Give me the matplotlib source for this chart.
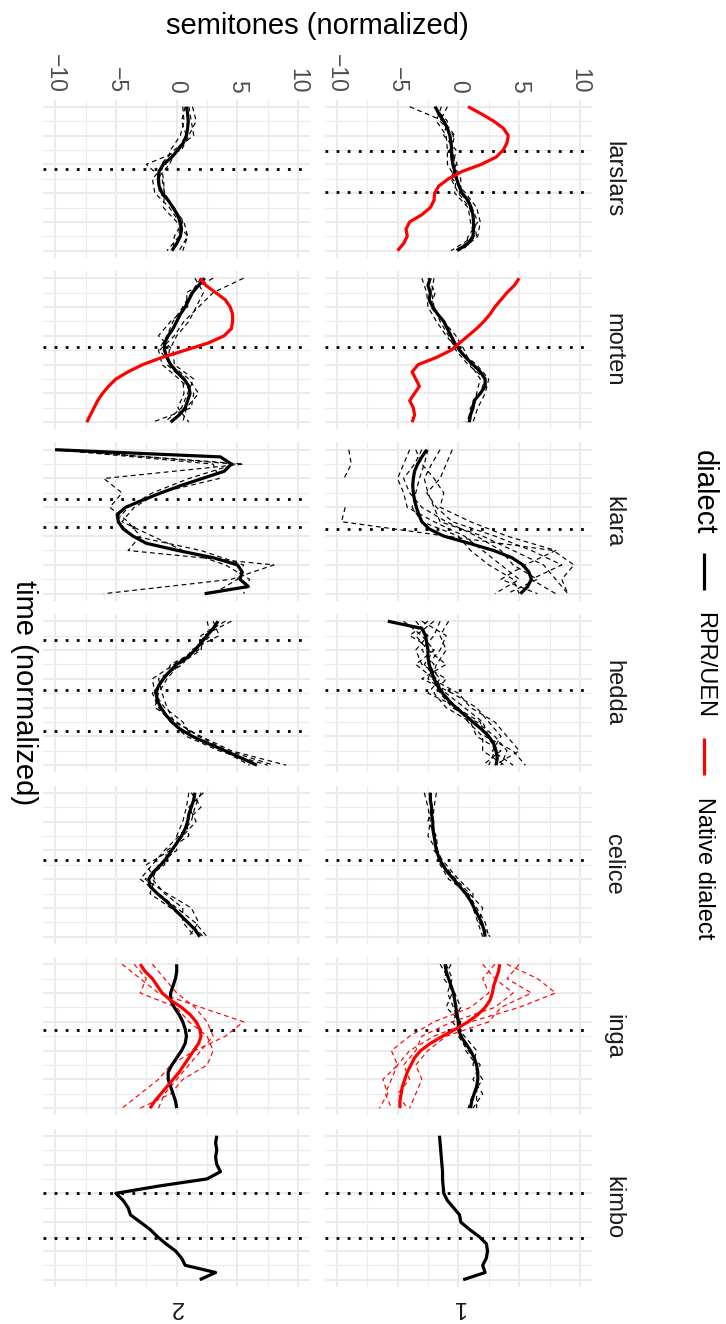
import numpy as np
import matplotlib
matplotlib.use("Agg")
import matplotlib.pyplot as plt

plt.rcParams["font.family"] = ["Liberation Sans", "DejaVu Sans"]

# ─── Data ────────────────────────────────────────────────────────────────────
SPEAKERS = ["larslars", "morten", "klara", "hedda", "celice", "inga", "kimbo"]
ROW_LABELS = ["1", "2"]
SEMI_TICKS = [-10, -5, 0, 5, 10]
SEMI_MINOR = [-7.5, -2.5, 2.5, 7.5]
TIME_TICKS = [0.0, 0.2, 0.4, 0.6, 0.8, 1.0]
TIME_MINOR = [0.1, 0.3, 0.5, 0.7, 0.9]

T21 = [0.00, 0.05, 0.10, 0.15, 0.20, 0.25, 0.30, 0.35, 0.40, 0.45, 0.50,
       0.55, 0.60, 0.65, 0.70, 0.75, 0.80, 0.85, 0.90, 0.95, 1.00]
T11 = [0.0, 0.1, 0.2, 0.3, 0.4, 0.5, 0.6, 0.7, 0.8, 0.9, 1.0]

# mean curves (RPR/UEN), semitones at T21
LARSLARS_1 = [-1.9, -1.6, -1.2, -0.9, -0.7, -0.6, -0.55, -0.55, -0.45, -0.3, -0.15,
              0.05, 0.3, 0.8, 1.05, 1.2, 1.25, 1.25, 1.2, 0.8, -0.1]
LARSLARS_2 = [0.8, 0.9, 0.95, 0.9, 0.8, 0.55, 0.1, -0.4, -1.1, -1.45, -1.5,
              -1.45, -1.2, -0.7, -0.3, 0.05, 0.3, 0.4, 0.3, 0.0, -0.4]
MORTEN_1 = [-2.3, -2.5, -2.3, -2.4, -2.1, -1.7, -1.2, -0.9, -0.6, -0.3, 0.1,
            0.6, 1.2, 1.8, 2.2, 2.2, 1.8, 1.3, 1.2, 1.0, 0.9]
MORTEN_2 = [2.3, 1.8, 1.3, 1.0, 0.7, 0.3, 0.0, -0.3, -0.7, -1.0, -1.0,
            -0.8, -0.5, 0.0, 0.6, 1.0, 1.1, 0.9, 0.7, 0.2, -0.5]
KLARA_1 = [-2.6, -3.0, -3.35, -3.6, -3.7, -3.75, -3.7, -3.6, -3.45, -3.25, -3.0,
           -2.4, -1.2, 0.9, 2.9, 4.4, 5.3, 5.8, 6.0, 5.7, 5.1]
KLARA_2 = [-10.0, 3.6, 4.5, 3.9, 2.1, 0.3, -1.3, -2.8, -4.2, -4.9, -4.8,
           -4.4, -3.6, -2.5, 0.1, 3.0, 5.0, 5.4, 5.2, 5.9, 2.3]
HEDDA_1 = [-5.8, -3.0, -2.7, -2.6, -2.5, -2.5, -2.4, -2.2, -2.0, -1.7, -1.3,
           -0.8, -0.2, 0.5, 1.2, 1.9, 2.5, 2.9, 3.1, 3.2, 3.1]
HEDDA_2 = [3.4, 3.0, 2.5, 2.0, 1.5, 0.9, 0.0, -0.6, -1.1, -1.5, -1.7,
           -1.6, -1.3, -0.9, -0.4, 0.3, 1.3, 2.6, 4.0, 5.3, 6.6]
CELICE_1 = [-2.3, -2.3, -2.2, -2.2, -2.1, -2.1, -2.0, -1.9, -1.8, -1.6, -1.3,
            -0.9, -0.4, 0.1, 0.6, 1.0, 1.3, 1.6, 1.9, 2.1, 2.2]
CELICE_2 = [1.5, 1.4, 1.2, 1.0, 0.9, 0.7, 0.4, 0.0, -0.4, -0.8, -1.3,
            -1.9, -2.3, -2.2, -1.6, -0.9, -0.3, 0.3, 0.9, 1.5, 1.9]
INGA_1 = [-1.1, -1.0, -0.8, -0.6, -0.4, -0.3, -0.2, -0.1, 0.0, 0.0, 0.2,
          0.6, 1.0, 1.3, 1.5, 1.6, 1.6, 1.5, 1.3, 1.1, 1.0]
INGA_2 = [0.0, 0.0, -0.1, -0.3, -0.5, -0.5, -0.2, 0.2, 0.5, 0.7, 0.8,
          0.7, 0.4, 0.0, -0.4, -0.7, -0.7, -0.5, -0.3, -0.1, 0.0]
KIMBO_1 = [-1.55, -1.5, -1.45, -1.4, -1.35, -1.3, -1.3, -1.25, -1.2, -0.9, -0.4,
           0.1, 0.2, 0.9, 1.7, 2.3, 2.4, 2.3, 2.0, 2.2, 0.4]
KIMBO_2 = [3.3, 3.2, 3.3, 3.2, 3.3, 3.6, 2.5, -1.5, -5.0, -4.4, -4.0,
           -3.8, -3.0, -2.2, -1.6, -0.9, -0.1, 0.4, 0.7, 3.2, 1.9]

# native dialect means, semitones at T21
LARSLARS_1_NAT = [0.8, 1.9, 2.9, 3.7, 4.1, 4.0, 3.7, 3.1, 1.9, 0.3, -0.8,
                  -1.6, -1.95, -2.0, -2.3, -3.0, -4.0, -4.3, -4.2, -4.5, -5.0]
MORTEN_1_NAT = [5.0, 4.6, 4.0, 3.5, 3.0, 2.6, 2.1, 1.5, 0.8, 0.1, -0.6,
                -1.8, -3.3, -3.8, -3.5, -3.2, -3.6, -4.0, -3.7, -3.6, -3.8]
MORTEN_2_NAT = [1.9, 2.4, 3.2, 4.0, 4.4, 4.6, 4.6, 4.5, 3.9, 2.6, 0.7,
                -1.2, -2.8, -4.0, -5.0, -5.6, -6.1, -6.5, -6.8, -7.1, -7.4]
INGA_1_NAT = [3.4, 3.3, 3.1, 2.9, 2.8, 2.6, 2.2, 1.6, 0.8, -0.2, -1.3,
              -2.3, -3.1, -3.6, -3.9, -4.2, -4.4, -4.6, -4.7, -4.8, -4.8]
INGA_2_NAT = [-3.0, -2.6, -2.0, -1.6, -1.2, -0.5, 0.4, 1.1, 1.6, 1.9, 2.0,
              1.8, 1.4, 1.0, 0.6, 0.2, -0.3, -0.8, -1.3, -1.8, -2.2]

# individual utterances (dashed), semitones at T11
LARSLARS_1_UTT = [[-4.0, -1.2, -0.3, -0.6, -0.1, -0.5, 0.6, 1.5, 1.8, 1.6, 0.2],
                  [-1.4, -1.8, -1.0, -0.9, -0.9, -0.2, -0.3, 0.8, 1.0, 1.3, -0.6],
                  [-2.0, -0.9, -1.2, -0.2, -0.4, 0.2, 0.2, 1.1, 1.6, 0.8, 0.5],
                  [-0.9, -1.5, -0.4, -0.7, -0.2, -0.6, 0.0, 0.9, 1.3, 1.5, -0.3]]
LARSLARS_2_UTT = [[1.3, 1.6, 1.0, 0.4, -2.5, -1.2, -1.0, -0.3, 0.6, 0.9, 0.2],
                  [0.5, 0.6, 0.3, -0.5, -0.9, -2.0, -1.8, -0.6, 0.2, 0.2, -0.8],
                  [1.0, 1.2, 1.4, -0.2, -1.3, -1.1, -1.0, -1.1, 0.0, 0.9, 0.5],
                  [0.7, 0.4, 0.8, 0.0, -0.6, -1.6, -1.4, -0.2, 0.5, -0.2, -0.3]]
MORTEN_1_UTT = [[-3.0, -2.6, -2.5, -1.8, -1.0, 0.0, 1.5, 2.5, 2.2, 1.6, 1.2],
                [-2.0, -2.2, -2.0, -1.5, -0.8, -0.2, 0.8, 2.2, 1.8, 1.0, 0.8],
                [-2.5, -1.9, -2.3, -1.2, -0.2, 0.5, 1.0, 1.8, 1.5, 1.3, 0.6]]
MORTEN_2_UTT = [[5.5, 3.0, 1.8, 0.6, -0.2, -1.4, -0.5, 1.0, 1.8, 0.8, 0.5],
                [2.0, 1.2, 0.5, -0.3, -0.8, -1.5, -1.2, 0.2, 1.4, 1.2, -2.0],
                [1.5, 2.2, 1.6, 1.0, 0.0, -0.6, -0.8, 0.5, 0.6, 0.1, 1.0],
                [3.0, 0.8, 0.9, -0.5, -1.5, -0.3, -0.2, 1.4, 0.9, 0.4, -1.0]]
KLARA_1_UTT = [[-9.0, -8.8, -9.4, np.nan, -9.3, -9.6, -1.0, 7.8, 9.5, 8.5, 9.0],
               [-3.0, -3.6, -4.5, -4.0, -3.0, -1.0, 1.5, 3.5, 4.5, 6.5, 4.0],
               [-1.5, -2.2, -2.8, -2.5, -2.0, -1.5, 2.0, 4.5, 7.0, 8.0, 9.0],
               [-4.0, -4.5, -5.0, -4.5, -4.2, -2.0, 0.5, 2.0, 3.5, 5.0, 3.0],
               [-0.5, -1.0, -1.5, -2.6, -1.8, -0.5, 3.0, 6.0, 8.5, 6.0, 8.0],
               [-2.5, -2.8, -3.2, -3.5, -3.8, -3.0, 0.0, 1.0, 2.5, 4.5, 5.0],
               [-3.5, -3.0, -2.0, -1.2, -1.5, 1.0, 4.0, 8.0, 5.5, 3.5, 6.5]]
KLARA_2_UTT = [[-10.0, 5.5, -6.0, -4.5, -5.5, -4.0, -3.0, -4.0, 8.0, 4.5, -6.0],
               [-9.8, 4.8, 1.0, -2.0, -4.0, -5.0, -3.5, 2.0, 5.5, 5.0, 3.0],
               [-10.0, 3.0, 3.5, -1.5, -3.5, -4.5, -2.0, 0.5, 4.0, 6.0, 5.5]]
HEDDA_1_UTT = [[-4.5, -3.0, -2.0, -3.5, -2.0, -1.5, -0.5, 1.5, 3.0, 4.0, 3.5],
               [-1.5, -2.0, -3.0, -2.0, -2.5, -1.0, 0.5, 2.0, 2.5, 3.0, 2.5],
               [-3.0, -1.0, -1.5, -2.5, -1.5, -2.5, 0.0, 0.8, 2.0, 2.0, 3.8],
               [-2.0, -3.5, -2.5, -1.0, -3.0, -0.5, 1.5, 2.5, 3.5, 2.8, 4.5],
               [-3.5, -2.5, -3.5, -3.0, -1.0, -2.0, -1.0, 1.0, 1.5, 3.5, 2.0],
               [-0.8, -1.5, -1.0, -1.8, -2.2, 0.0, 1.0, 3.0, 4.0, 5.0, 3.0],
               [-2.5, -4.0, -2.0, -2.8, -1.8, -1.2, -0.2, 1.8, 2.2, 4.5, 5.5]]
HEDDA_2_UTT = [[4.0, 2.0, 1.8, -0.5, -1.0, -2.0, -1.5, -0.5, 0.8, 3.5, 7.5],
               [3.0, 3.5, 1.2, 0.5, -1.5, -1.2, -0.8, -0.2, 2.0, 4.5, 9.0],
               [2.5, 2.8, 1.5, -0.2, -2.0, -1.8, -1.0, 0.5, 1.2, 3.8, 6.0],
               [4.5, 2.2, 2.0, 0.2, -0.8, -1.5, -1.8, 0.0, 1.8, 4.2, 8.0]]
CELICE_1_UTT = [[-2.8, -2.5, -2.3, -2.5, -1.8, -1.5, -0.8, 0.8, 1.5, 2.2, 2.5],
                [-1.8, -2.0, -2.1, -1.9, -2.0, -1.0, 0.0, 1.2, 1.2, 1.6, 2.0],
                [-2.4, -2.2, -2.5, -1.8, -1.7, -1.2, -0.2, 0.9, 2.0, 1.7, 2.6]]
CELICE_2_UTT = [[2.0, 1.5, 1.2, 0.2, -1.0, -2.0, -3.0, -1.5, 0.0, 1.5, 2.5],
                [1.0, 0.8, 0.5, 0.0, 0.0, -1.5, -2.0, -1.0, 0.5, 0.5, 1.5],
                [1.2, 2.0, 0.8, 1.0, -0.8, -1.0, -2.6, -0.8, 1.2, 1.8, 1.0],
                [2.2, 1.0, 1.6, 0.5, -0.5, -2.5, -1.8, -2.2, -0.5, 1.0, 2.2]]
INGA_1_UTT = [[-1.5, -0.8, -0.5, -1.0, 0.2, 0.0, 0.8, 1.8, 1.2, 2.0, 1.2],
              [-0.6, -1.2, -0.3, 0.2, -0.5, 0.5, 1.5, 1.2, 2.0, 1.2, 0.8],
              [-1.0, -0.5, -0.9, -0.4, 0.0, 0.3, 0.6, 1.5, 1.6, 1.5, 1.5]]
INGA_1_NAT_UTT = [[4.0, 6.5, 8.0, 5.0, 1.0, -2.0, -4.0, -5.0, -5.5, -6.0, -5.5],
                  [2.0, 3.0, 4.5, 3.0, -0.5, -3.0, -3.5, -4.5, -4.0, -5.0, -4.2],
                  [3.0, 2.0, 2.5, 1.0, -2.0, -4.0, -5.5, -5.0, -6.2, -5.8, -6.5],
                  [5.0, 4.0, 6.0, 3.5, 2.5, -1.0, -2.5, -3.5, -3.0, -3.5, -4.0]]
INGA_2_NAT_UTT = [[-4.5, -3.0, -1.5, 2.0, 5.5, 4.0, 1.5, -0.5, -1.5, -3.0, -4.5],
                  [-2.0, -1.0, 0.0, 1.5, 2.5, 3.0, 2.0, 1.0, 0.0, -1.0, -1.5],
                  [-3.5, -2.5, -3.0, 0.0, 1.0, 2.5, 3.0, 2.5, 0.5, -0.5, -3.0]]

# boundary markers (dotted), normalized time
LARSLARS_BOUNDS = [[0.31, 0.59], [0.43]]
MORTEN_BOUNDS = [[0.48], [0.48]]
KLARA_BOUNDS = [[0.55], [0.34, 0.54]]
HEDDA_BOUNDS = [[0.48], [0.13, 0.48, 0.76]]
CELICE_BOUNDS = [[0.47], [0.47]]
INGA_BOUNDS = [[0.46], [0.46]]
KIMBO_BOUNDS = [[0.40, 0.71], [0.40, 0.71]]

# ─── Lookup tables built from the lists above ────────────────────────────────
MEANS = {
    ("larslars", "1"): LARSLARS_1, ("larslars", "2"): LARSLARS_2,
    ("morten", "1"): MORTEN_1, ("morten", "2"): MORTEN_2,
    ("klara", "1"): KLARA_1, ("klara", "2"): KLARA_2,
    ("hedda", "1"): HEDDA_1, ("hedda", "2"): HEDDA_2,
    ("celice", "1"): CELICE_1, ("celice", "2"): CELICE_2,
    ("inga", "1"): INGA_1, ("inga", "2"): INGA_2,
    ("kimbo", "1"): KIMBO_1, ("kimbo", "2"): KIMBO_2,
}
NATIVE = {
    ("larslars", "1"): LARSLARS_1_NAT, ("morten", "1"): MORTEN_1_NAT,
    ("morten", "2"): MORTEN_2_NAT, ("inga", "1"): INGA_1_NAT,
    ("inga", "2"): INGA_2_NAT,
}
UTTS = {
    ("larslars", "1"): LARSLARS_1_UTT, ("larslars", "2"): LARSLARS_2_UTT,
    ("morten", "1"): MORTEN_1_UTT, ("morten", "2"): MORTEN_2_UTT,
    ("klara", "1"): KLARA_1_UTT, ("klara", "2"): KLARA_2_UTT,
    ("hedda", "1"): HEDDA_1_UTT, ("hedda", "2"): HEDDA_2_UTT,
    ("celice", "1"): CELICE_1_UTT, ("celice", "2"): CELICE_2_UTT,
    ("inga", "1"): INGA_1_UTT,
}
NATIVE_UTTS = {("inga", "1"): INGA_1_NAT_UTT, ("inga", "2"): INGA_2_NAT_UTT}
BOUNDS = {
    "larslars": LARSLARS_BOUNDS, "morten": MORTEN_BOUNDS, "klara": KLARA_BOUNDS,
    "hedda": HEDDA_BOUNDS, "celice": CELICE_BOUNDS, "inga": INGA_BOUNDS,
    "kimbo": KIMBO_BOUNDS,
}

# ─── Layout (pixels, figure is 726 x 1324) ───────────────────────────────────
W, H = 726, 1324
COL_X = {"1": (324.5, 592.2), "2": (43.0, 310.4)}   # row "1" drawn on the right
PANEL_TOP, PANEL_H, PANEL_PITCH = 99.5, 158.4, 171.5
GRID = "#EBEBEB"


def fx(x):
    return x / W


def fy(y):
    return 1 - y / H


def main():
    fig = plt.figure(figsize=(W / 100, H / 100), dpi=100)

    for i, spk in enumerate(SPEAKERS):
        y0 = PANEL_TOP + i * PANEL_PITCH
        for r, row in enumerate(ROW_LABELS):
            x0, x1 = COL_X[row]
            ax = fig.add_axes([fx(x0), fy(y0 + PANEL_H), (x1 - x0) / W, PANEL_H / H])
            ax.set_xlim(-11, 11)
            ax.set_ylim(1.05, -0.05)
            for s in ax.spines.values():
                s.set_visible(False)
            ax.set_xticks(SEMI_TICKS)
            ax.set_xticks(SEMI_MINOR, minor=True)
            ax.set_yticks(TIME_TICKS)
            ax.set_yticks(TIME_MINOR, minor=True)
            ax.tick_params(which="both", length=0, labelbottom=False, labelleft=False)
            ax.grid(which="major", color=GRID, lw=1.5)
            ax.grid(which="minor", color=GRID, lw=0.8)
            ax.set_axisbelow(True)

            for t in BOUNDS[spk][r]:
                ax.axhline(t, color="black", lw=2.0, linestyle=(0, (1, 3)),
                           dash_capstyle="butt")

            for u in UTTS.get((spk, row), []):
                ax.plot(u, T11, color="black", lw=0.85, dashes=(4, 3))
            for u in NATIVE_UTTS.get((spk, row), []):
                ax.plot(u, T11, color="#FF0000", lw=0.85, dashes=(4, 3))
            ax.plot(MEANS[(spk, row)], T21, color="black", lw=2.3,
                    solid_capstyle="butt", solid_joinstyle="round")
            if (spk, row) in NATIVE:
                ax.plot(NATIVE[(spk, row)], T21, color="#FF0000", lw=2.3,
                        solid_capstyle="butt", solid_joinstyle="round")

            # semitone tick labels above the first row of panels
            if i == 0:
                for v in SEMI_TICKS:
                    xp = x0 + (v + 11) / 22 * (x1 - x0)
                    lab = f"{v}".replace("-", "\u2212")
                    fig.text(fx(xp), fy(93), lab, rotation=-90, ha="center",
                             va="bottom", fontsize=16.5, color="#4D4D4D")

        # speaker strip label
        fig.text(fx(613), fy(y0 + PANEL_H / 2), spk, rotation=-90, ha="center",
                 va="center", fontsize=17, color="#1A1A1A")

    # row strip labels (upside down)
    for row in ROW_LABELS:
        x0, x1 = COL_X[row]
        fig.text(fx((x0 + x1) / 2), fy(1307), row, rotation=180, ha="center",
                 va="center", fontsize=17, color="#1A1A1A")

    # axis titles
    fig.text(fx(317), fy(26), "semitones (normalized)", ha="center", va="center",
             fontsize=21)
    fig.text(fx(24), fy(693), "time (normalized)", rotation=-90, ha="center",
             va="center", fontsize=21)

    # legend
    fig.text(fx(704), fy(450), "dialect", rotation=-90, ha="center", va="top",
             fontsize=21)
    fig.add_artist(plt.Line2D([fx(704), fx(704)], [fy(553), fy(590)],
                              color="black", lw=2.3, solid_capstyle="butt"))
    fig.text(fx(704), fy(612), "RPR/UEN", rotation=-90, ha="center", va="top",
             fontsize=17)
    fig.add_artist(plt.Line2D([fx(704), fx(704)], [fy(738), fy(775)],
                              color="#FF0000", lw=2.3, solid_capstyle="butt"))
    fig.text(fx(704), fy(797), "Native dialect", rotation=-90, ha="center",
             va="top", fontsize=17)

    fig.savefig("out.png", dpi=100, facecolor="white")
    plt.close(fig)


if __name__ == "__main__":
    main()
